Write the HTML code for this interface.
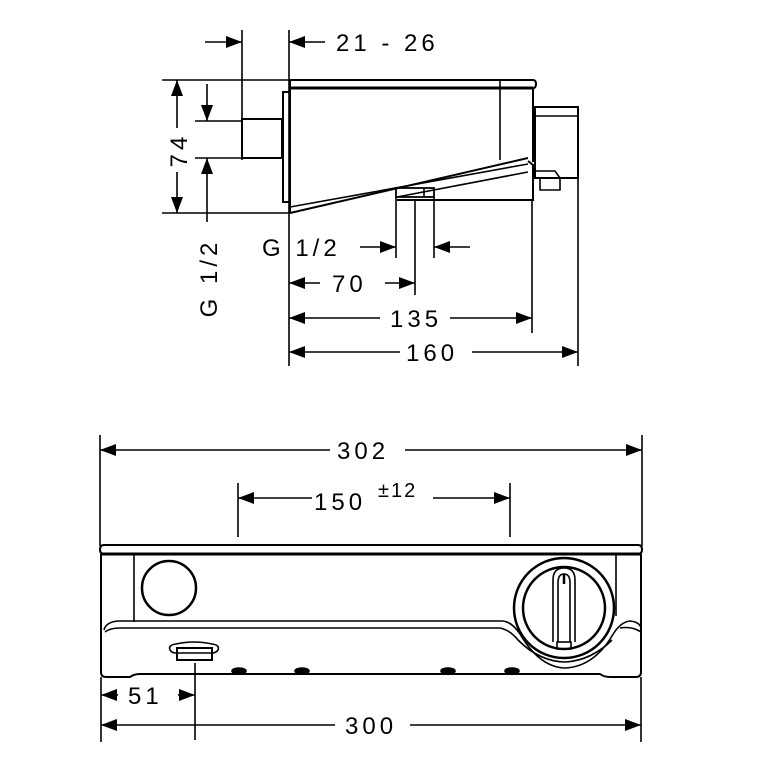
<!DOCTYPE html>
<html><head><meta charset="utf-8"><style>
html,body{margin:0;padding:0;background:#fff;}
svg{display:block}
text{font-family:"Liberation Sans",sans-serif;font-size:24px;fill:#000;letter-spacing:4px}
</style></head><body>
<svg width="767" height="780" viewBox="0 0 767 780" xmlns="http://www.w3.org/2000/svg">
<defs>
<marker id="a" viewBox="0 0 16 12" refX="16" refY="6" markerWidth="16" markerHeight="12" markerUnits="userSpaceOnUse" orient="auto"><path d="M0,0 L16,6 L0,12 z" fill="#000"/></marker>
</defs>
<g stroke="#000" stroke-width="1.6" fill="none">
<!-- TOP VIEW -->
<line x1="242" y1="30" x2="242" y2="160"/>
<line x1="205" y1="42" x2="242" y2="42" marker-end="url(#a)"/>
<line x1="289" y1="30" x2="289" y2="366"/>
<line x1="325" y1="42" x2="289" y2="42" marker-end="url(#a)"/>
<line x1="162" y1="80" x2="290" y2="80"/>
<line x1="162" y1="213" x2="290" y2="213"/>
<line x1="177" y1="128" x2="177" y2="80" marker-end="url(#a)"/>
<line x1="177" y1="172" x2="177" y2="213" marker-end="url(#a)"/>
<line x1="207" y1="84" x2="207" y2="121" marker-end="url(#a)"/>
<line x1="207" y1="222" x2="207" y2="158" marker-end="url(#a)"/>
<line x1="195" y1="121" x2="242" y2="121"/>
<line x1="195" y1="158" x2="242" y2="158"/>
<rect x="242" y="119" width="40" height="39" stroke-width="2"/>
<rect x="283" y="92" width="7" height="110" stroke-width="2"/>
<path d="M290,80 H533 Q536,80 536,84 Q536,88 533,88 H290 Z" stroke-width="2"/>
<line x1="290" y1="88" x2="533" y2="88" stroke-width="3"/>
<line x1="290" y1="88" x2="290" y2="213" stroke-width="2"/>
<line x1="533" y1="88" x2="533" y2="162" stroke-width="2"/>
<line x1="500" y1="80" x2="500" y2="160"/>
<path d="M290,213 L528,158" stroke-width="2"/>
<path d="M290,207 L528,164"/>
<path d="M397,197 L528,172"/>
<path d="M397,200 H533 V165 L528,161" stroke-width="2"/>
<rect x="396" y="188" width="38" height="9" stroke-width="1.8"/>
<line x1="424" y1="188" x2="424" y2="197"/>
<rect x="535" y="107" width="43" height="71" stroke-width="2"/>
<line x1="535" y1="116" x2="578" y2="116"/>
<path d="M533,171 H555 L560,178 V190 H540 V178"/>
<line x1="396" y1="197" x2="396" y2="258"/>
<line x1="434" y1="197" x2="434" y2="258"/>
<line x1="415" y1="200" x2="415" y2="295"/>
<line x1="360" y1="247" x2="396" y2="247" marker-end="url(#a)"/>
<line x1="470" y1="247" x2="434" y2="247" marker-end="url(#a)"/>
<line x1="320" y1="283" x2="289" y2="283" marker-end="url(#a)"/>
<line x1="385" y1="283" x2="415" y2="283" marker-end="url(#a)"/>
<line x1="532" y1="200" x2="532" y2="333"/>
<line x1="578" y1="107" x2="578" y2="366"/>
<line x1="380" y1="318" x2="289" y2="318" marker-end="url(#a)"/>
<line x1="450" y1="318" x2="532" y2="318" marker-end="url(#a)"/>
<line x1="400" y1="352" x2="289" y2="352" marker-end="url(#a)"/>
<line x1="472" y1="352" x2="578" y2="352" marker-end="url(#a)"/>

<!-- FRONT VIEW -->
<line x1="100" y1="435" x2="100" y2="546"/>
<line x1="642" y1="435" x2="642" y2="546"/>
<line x1="330" y1="450" x2="100" y2="450" marker-end="url(#a)"/>
<line x1="405" y1="450" x2="642" y2="450" marker-end="url(#a)"/>
<line x1="238" y1="483" x2="238" y2="537"/>
<line x1="510" y1="483" x2="510" y2="537"/>
<line x1="312" y1="498" x2="238" y2="498" marker-end="url(#a)"/>
<line x1="433" y1="498" x2="510" y2="498" marker-end="url(#a)"/>
<path d="M104,545 H638 Q642,545 642,549.5 Q642,554 638,554 H104 Q100,554 100,549.5 Q100,545 104,545 Z" stroke-width="2"/>
<line x1="101" y1="554" x2="641" y2="554" stroke-width="3"/>
<path d="M101,554 V672 Q101,677 106,677 H130 Q134,674 140,674 H600 Q604,677 610,677 H636 Q641,677 641,672 V554" stroke-width="2"/>
<line x1="134" y1="554" x2="134" y2="622"/>
<line x1="616" y1="554" x2="616" y2="616"/>
<circle cx="169" cy="588" r="27" stroke-width="2.5"/>
<path d="M104,630 Q106,622 118,621 H503 Q512,622 520,634 Q540,668 566,668 Q594,666 612,636 Q620,622 630,621 Q640,622 641,628"/>
<path d="M105,632 Q110,628 120,628 H500 Q510,630 518,640 Q540,662 566,662 Q592,660 612,640"/>
<path d="M620,628 Q632,626 641,632"/>
<circle cx="564" cy="608" r="50" stroke-width="2.5"/>
<circle cx="564" cy="608" r="41" stroke-width="2.5"/>
<path d="M558,642 V583 Q558,574 564,574 Q570,574 570,583 V642" stroke-width="1.6"/>
<path d="M553,642 V580 Q553,568 564,568 Q575,568 575,580 V642" stroke-width="1.6"/>
<line x1="564" y1="574" x2="564" y2="584" stroke-width="2.5"/>
<rect x="557" y="642" width="14" height="7"/>
<path d="M170,650 Q168,645 176,644 Q194,640 212,644 Q220,645 218,650 Q216,653 212,653 H176 Q172,653 170,650 Z"/>
<rect x="177" y="648" width="35" height="12" stroke-width="2"/>
<ellipse cx="239" cy="671" rx="7" ry="3" fill="#000"/>
<ellipse cx="302" cy="671" rx="7" ry="3" fill="#000"/>
<ellipse cx="448" cy="671" rx="7" ry="3" fill="#000"/>
<ellipse cx="512" cy="671" rx="7" ry="3" fill="#000"/>
<line x1="101" y1="677" x2="101" y2="742"/>
<line x1="641" y1="677" x2="641" y2="742"/>
<line x1="195" y1="663" x2="195" y2="740"/>
<line x1="118" y1="695" x2="101" y2="695" marker-end="url(#a)"/>
<line x1="178" y1="695" x2="195" y2="695" marker-end="url(#a)"/>
<line x1="335" y1="725" x2="101" y2="725" marker-end="url(#a)"/>
<line x1="410" y1="725" x2="641" y2="725" marker-end="url(#a)"/>
</g>
<g stroke="none">
<text x="336" y="51">21 - 26</text>
<text x="187" y="150" text-anchor="middle" transform="rotate(-90 187 150)">74</text>
<text x="217" y="278" text-anchor="middle" transform="rotate(-90 217 278)">G 1/2</text>
<text x="262" y="256">G 1/2</text>
<text x="332" y="292">70</text>
<text x="390" y="327">135</text>
<text x="406" y="361">160</text>
<text x="337" y="459">302</text>
<text x="314" y="510">150</text>
<text x="378" y="497" style="font-size:20px;letter-spacing:2px">±12</text>
<text x="128" y="704">51</text>
<text x="345" y="734">300</text>
</g>
</svg>
</body></html>
